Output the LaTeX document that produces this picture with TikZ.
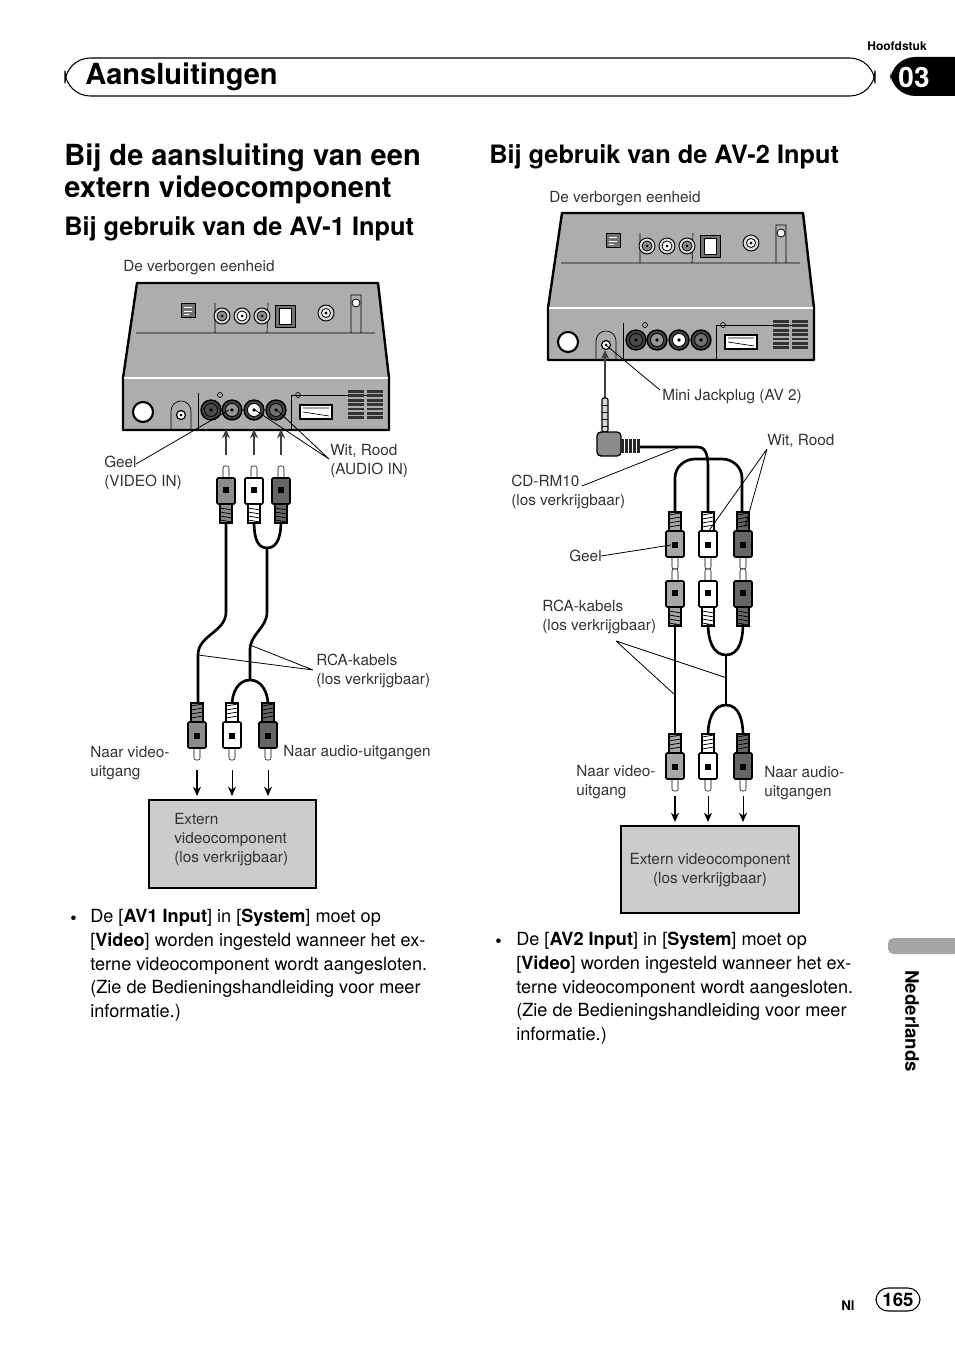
\documentclass[tikz,border=0pt]{standalone}
\usepackage{fontspec}
\setmainfont{TeX Gyre Heros}
\usetikzlibrary{arrows.meta}
\tikzset{
 lab/.style={font=\fontsize{11.5}{14.3}\selectfont, text=black!80, inner sep=0, anchor=west, align=left},
 body/.style={font=\fontsize{13.6}{17.8}\selectfont, inner sep=0, anchor=west},
 lead/.style={line width=0.6pt},
 cab/.style={line width=2pt},
 arr/.style={-{Stealth[length=7pt,width=6pt]}, line width=1pt},
 rca/.pic={
  \draw[fill=white,rounded corners=1.5] (-3,-26) rectangle (3,-13);
  \draw[fill=#1, line width=1.2pt, rounded corners=1] (-9,-14) rectangle (9,12);
  \fill[black] (-3,-5) rectangle (3,1);
  \draw[fill=#1, line width=1pt] (-6,12) rectangle (6,31);
  \foreach \k in {16,20,24,28} \draw[line width=0.6pt] (-6,\k) -- (6,\k+2);
 }
}
\newcommand\hiddenunit[2]{%
\begin{scope}[shift={(#1,#2)}]
 \draw[fill=black!32, line width=1.8pt, line join=round] (14,0) -- (255,0) -- (266,95) -- (266,147) -- (0,147) -- (0,95) -- cycle;
 \draw[white, line width=1pt] (1,95) -- (265,95);
 \draw[line width=0.5pt] (13,50) -- (92,50) -- (92,20) (144,50) -- (145,20) (92,50) -- (252,50) (228,50) -- (228,12) -- (238,12) -- (238,50);
 \draw[line width=0.6pt, fill=black!55] (58,20) rectangle (72,34);
 \draw[line width=0.4pt, white] (61,24) -- (69,24) (61,28) -- (69,28) (61,31) -- (66,31);
 \foreach \x/\c in {99/black!45,119/white,139/black!45}{
   \draw[line width=0.7pt, fill=black!15] (\x,33) circle (8);
   \draw[line width=0.6pt, fill=\c] (\x,33) circle (5);
   \fill (\x,33) circle (1.5);}
 \draw[line width=0.7pt, fill=black!55] (152,22) rectangle (172,44);
 \draw[line width=0.6pt, fill=white] (156,25) rectangle (168,41);
 \draw[line width=0.7pt, fill=black!15] (203,30) circle (8);
 \draw[line width=0.6pt, fill=white] (203,30) circle (4.5);
 \fill (203,30) circle (1.7);
 \draw[line width=0.6pt, fill=white] (233,20) circle (4);
 \draw[line width=1.6pt, fill=white] (20,129) circle (10);
 \draw[line width=0.5pt] (48,147) -- (48,128) arc (180:360:10) -- (68,147);
 \draw[line width=0.9pt, fill=white] (58,132) circle (4.5);
 \fill (58,132) circle (1.5);
 \draw[line width=0.5pt] (75,147) -- (75,110) (168,147) -- (168,112) -- (260,112);
 \foreach \x/\c in {88/black!70,109/black!40,131/white,153/black!55}{
   \draw[line width=1pt, fill=black!75] (\x,127) circle (10);
   \draw[line width=0.6pt, fill=\c] (\x,127) circle (6.5);
   \fill (\x,127) circle (1.8);}
 \draw[line width=0.5pt] (97,112) circle (2.5) (175,112) circle (2.5);
 \draw[line width=0.8pt, fill=white] (177,122) rectangle (209,136);
 \draw[line width=0.5pt] (180,125) -- (206,125) (180,129) -- (206,133);
 \foreach \r in {0,...,6}{
   \fill[black!80] (225,107+\r*4.4) rectangle (241,109.8+\r*4.4);
   \fill[black!80] (244,107+\r*4.4) rectangle (260,109.8+\r*4.4);}
\end{scope}}
\begin{document}
\begin{tikzpicture}[x=0.75pt,y=-0.75pt]
\useasboundingbox (0,0) rectangle (954,1352);
% header
\draw[line width=0.8pt, rounded corners=19] (65,58) rectangle (875,96);
\node[font=\fontsize{21.8}{24}\selectfont\bfseries, anchor=west, inner sep=0] (hd) at (85,77) {Aansluitingen};
\node[font=\fontsize{9}{10}\selectfont\bfseries, anchor=east, inner sep=0] (hf) at (927,46) {Hoofdstuk};
\fill[black, rounded corners=19] (890,57) rectangle (1000,96);
\node[font=\fontsize{21}{24}\selectfont\bfseries, text=white, inner sep=0] (ch) at (914,77) {03};
% titles
\node[font=\fontsize{21.8}{24}\selectfont\bfseries, anchor=west, inner sep=0, align=left] (t1) at (64,174) {Bij de aansluiting van een\\extern videocomponent};
\node[font=\fontsize{19}{22}\selectfont\bfseries, anchor=west, inner sep=0] (t2) at (64,229) {Bij gebruik van de AV-1 Input};
\node[font=\fontsize{19}{22}\selectfont\bfseries, anchor=west, inner sep=0] (t3) at (489,157) {Bij gebruik van de AV-2 Input};
% ===== left diagram
\node[lab] (l0) at (123,268) {De verborgen eenheid};
\hiddenunit{123}{283}
\foreach \x in {226,254,281} \draw[arr, black!75] (\x,455) -- (\x,429);
\draw[cab] (226,520) -- (226,612) to[out=270,in=90] (198,655) -- (198,705);
\draw[cab] (254,520) to[out=270,in=180] (267,548) to[out=0,in=270] (281,520);
\draw[cab] (267,548) -- (267,612) to[out=270,in=90] (250,650) -- (250,680);
\draw[cab] (232,705) to[out=90,in=180] (250,680) to[out=0,in=90] (268,705);
\pic at (226,492) {rca=black!45};
\pic at (254,492) {rca=white};
\pic at (281,492) {rca=black!60};
\pic[yscale=-1] at (197,734) {rca=black!45};
\pic[yscale=-1] at (232,734) {rca=white};
\pic[yscale=-1] at (268,734) {rca=black!60};
\draw[arr] (197,770) -- (197,796);
\draw[arr, line width=0.6pt] (232,770) -- (232,796);
\draw[arr, line width=0.6pt] (268,770) -- (268,796);
\node[lab] (l1) at (104,473) {Geel\\(VIDEO IN)};
\draw[lead] (136,464) -- (229,410);
\node[lab] (l2) at (330,461) {Wit, Rood\\(AUDIO IN)};
\draw[lead] (329,459) -- (255,410) (329,459) -- (277,410);
\node[lab] (l3) at (316,671) {RCA-kabels\\(los verkrijgbaar)};
\draw[lead] (313,670) -- (198,655) (313,670) -- (250,645);
\node[lab] (l4) at (90,763) {Naar video-\\uitgang};
\node[lab] (l5) at (283,753) {Naar audio-uitgangen};
\draw[line width=1.6pt, fill=black!20] (149,800) rectangle (316,888);
\node[lab] (l6) at (174,840) {Extern\\videocomponent\\(los verkrijgbaar)};
% ===== right diagram
\node[lab] (r0) at (549,199) {De verborgen eenheid};
\hiddenunit{548}{213}
\draw[arr, black!75, line width=0.8pt] (605,400) -- (605,350);
\draw[fill=black!15, rounded corners=1.5, line width=0.8pt] (602,398) rectangle (608,432);
\foreach \k in {405,412,419,426} \draw[line width=0.6pt] (602,\k) -- (608,\k);
\draw[cab] (640,447) -- (698,447) to[out=0,in=90] (708,470) -- (708,512);
\draw[fill=black!45, line width=1pt, rounded corners=3] (597,432) rectangle (621,456);
\fill[black!85] (621,439) rectangle (640,453);
\foreach \k in {624,628,632,636} \draw[white, line width=0.5pt] (\k,439) -- (\k,453);
\draw[cab] (675,512) -- (675,478) to[out=90,in=180] (695,459) -- (722,459) to[out=0,in=90] (742,478) -- (742,512);
\pic[yscale=-1] at (675,543) {rca=black!35};
\pic[yscale=-1] at (708,543) {rca=white};
\pic[yscale=-1] at (743,543) {rca=black!60};
\pic at (675,595) {rca=black!35};
\pic at (708,595) {rca=white};
\pic at (743,595) {rca=black!60};
\draw[cab] (675,624) -- (675,735);
\draw[cab] (708,624) to[out=270,in=180] (726,655) to[out=0,in=270] (743,624);
\draw[cab] (726,655) -- (726,705);
\draw[cab] (708,735) to[out=90,in=180] (726,705) to[out=0,in=90] (743,735);
\pic[yscale=-1] at (675,765) {rca=black!35};
\pic[yscale=-1] at (708,765) {rca=white};
\pic[yscale=-1] at (743,765) {rca=black!60};
\draw[arr] (675,796) -- (675,822);
\draw[arr, line width=0.6pt] (708,796) -- (708,822);
\draw[arr, line width=0.6pt] (743,796) -- (743,822);
\node[lab] (r1) at (662,397) {Mini Jackplug (AV 2)};
\draw[lead] (660,390) -- (607,346);
\node[lab] (r2) at (767,441) {Wit, Rood};
\draw[lead] (767,449) -- (708,532) (767,449) -- (745,527);
\node[lab] (r3) at (511,492) {CD-RM10\\(los verkrijgbaar)};
\draw[lead] (582,486) -- (680,447);
\node[lab] (r4) at (569,556) {Geel};
\draw[lead] (601,556) -- (671,545);
\node[lab] (r5) at (542,617) {RCA-kabels\\(los verkrijgbaar)};
\draw[lead] (616,641) -- (675,695) (616,641) -- (727,678);
\node[lab] (r6) at (576,782) {Naar video-\\uitgang};
\node[lab] (r7) at (764,783) {Naar audio-\\uitgangen};
\draw[line width=1.6pt, fill=black!20] (621,826) rectangle (799,913);
\node[lab, anchor=center, align=center] (r8) at (710,870) {Extern videocomponent\\(los verkrijgbaar)};
% bullets
\node[body, anchor=north west, align=left] (b1) at (90,909) {De [\textbf{AV1 Input}] in [\textbf{System}] moet op\\{[}\textbf{Video}] worden ingesteld wanneer het ex-\\terne videocomponent wordt aangesloten.\\(Zie de Bedieningshandleiding voor meer\\informatie.)};
\node[body] (bb1) at (70,920) {\textbullet};
\node[body, anchor=north west, align=left] (b2) at (516,932) {De [\textbf{AV2 Input}] in [\textbf{System}] moet op\\{[}\textbf{Video}] worden ingesteld wanneer het ex-\\terne videocomponent wordt aangesloten.\\(Zie de Bedieningshandleiding voor meer\\informatie.)};
\node[body] (bb2) at (495,943) {\textbullet};
% side tab
\fill[black!35, rounded corners=4] (888,938) rectangle (960,954);
\node[font=\fontsize{14}{16}\selectfont\bfseries, rotate=-90, inner sep=0] (nl) at (912,1021) {Nederlands};
% footer
\node[font=\fontsize{10}{12}\selectfont\bfseries, inner sep=0] (pnl) at (848,1306) {Nl};
\draw[line width=0.8pt, rounded corners=9] (876,1288) rectangle (920,1311);
\node[font=\fontsize{14}{16}\selectfont\bfseries, inner sep=0] (pg) at (898,1300) {165};
\end{tikzpicture}
\end{document}
